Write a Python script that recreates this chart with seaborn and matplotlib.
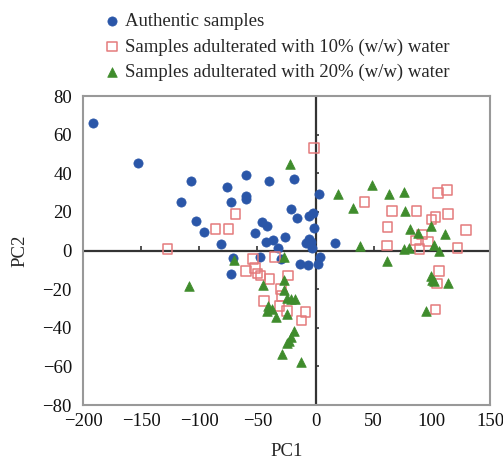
import numpy as np
import pandas as pd
import matplotlib
matplotlib.use("Agg")
import matplotlib.pyplot as plt
import seaborn as sns

# PC scores
auth_pc1 = [-191.5, -152.5, -107.0, -115.3, -102.5, -96.0, -81.5, -76.0, -72.4, -60.2,
            -59.5, -59.9, -40.2, -18.7, 3.1, -21.0, -15.7, -5.9, -1.8, -45.8,
            -42.0, -52.5, -1.0, -43.0, -36.7, -26.6, -32.2, -8.6, -5.8, -3.6,
            -2.8, 16.3, -48.0, 3.5, -70.8, -29.5, -13.6, -6.8, 2.4, -73.1]
auth_pc2 = [66.0, 45.1, 36.0, 25.2, 15.5, 9.6, 3.5, 32.9, 25.3, 39.2,
            28.0, 26.5, 36.0, 36.9, 29.4, 21.3, 17.0, 18.1, 19.4, 14.5,
            12.6, 9.0, 11.5, 4.6, 5.5, 6.8, 1.1, 4.1, 5.7, 4.6,
            1.4, 3.8, -3.5, -3.3, -3.8, -4.3, -7.0, -7.4, -7.2, -12.3]

w10_pc1 = [-127.2, -1.1, -68.8, -86.0, -75.0, -53.8, -34.7, -59.8, -52.0, -50.1,
           -47.5, -39.7, -23.6, -29.8, -28.9, -44.5, -31.0, -24.6, -8.6, -12.0,
           42.1, 105.3, 113.0, 65.9, 86.7, 114.0, 103.0, 99.6, 62.0, 129.6,
           91.7, 86.3, 96.5, 61.3, 89.4, 122.0, 106.3, 104.3, 103.2]
w10_pc2 = [0.7, 53.2, 18.8, 11.0, 11.2, -4.3, -3.5, -10.5, -9.0, -12.0,
           -12.9, -14.6, -12.9, -20.0, -23.5, -26.2, -28.8, -31.4, -31.8, -36.2,
           25.0, 29.8, 31.3, 20.3, 20.3, 18.9, 17.2, 16.0, 12.1, 10.5,
           8.3, 5.2, 4.7, 2.6, 0.7, 1.4, -10.6, -17.1, -30.5]

w20_pc1 = [-22.1, -26.8, -70.2, -108.9, -45.0, -27.0, -27.2, -24.3, -21.5, -18.1,
           -41.0, -37.2, -41.5, -34.4, -24.3, -18.7, -20.9, -23.0, -24.3, -28.6,
           -12.2, 48.3, 19.2, 63.0, 76.1, 32.1, 76.8, 81.5, 88.1, 98.9,
           111.0, 37.8, 76.2, 80.2, 101.7, 106.0, 61.7, 98.9, 100.3, 101.5,
           113.5, 95.2]
w20_pc2 = [45.0, -3.6, -4.8, -18.5, -18.1, -15.2, -20.5, -24.5, -25.3, -25.3,
           -28.8, -30.5, -31.4, -34.5, -33.1, -41.5, -44.6, -46.9, -48.0, -53.8,
           -57.7, 34.0, 29.0, 29.0, 30.3, 22.1, 20.3, 10.9, 9.2, 12.9,
           8.7, 2.2, 1.0, 1.5, 2.6, -0.4, -5.2, -13.1, -15.2, -15.9,
           -16.9, -31.4]

labels = ["Authentic samples",
          "Samples adulterated with 10% (w/w) water",
          "Samples adulterated with 20% (w/w) water"]
x_ticks = [-200, -150, -100, -50, 0, 50, 100, 150]
y_ticks = [-80, -60, -40, -20, 0, 20, 40, 60, 80]

sns.set_style("white")
plt.rcParams['font.family'] = ['Liberation Serif', 'DejaVu Serif']
fs = 13.5

fig = plt.figure(figsize=(5.03, 4.62), dpi=100)
ax = fig.add_axes([83 / 503, 1 - 405 / 462, 407 / 503, 309 / 462])

# crosshair through the origin, with its own small ticks
ax.axhline(0, color="#333333", lw=1.6, zorder=1)
ax.axvline(0, color="#333333", lw=1.6, zorder=1)
ax.vlines([t for t in x_ticks if t != 0], 0, 2.3, color="#333333", lw=1.2, zorder=1)
ax.hlines([t for t in y_ticks if t != 0], 0, 3.0, color="#333333", lw=1.2, zorder=1)

sns.scatterplot(x=auth_pc1, y=auth_pc2, ax=ax, marker="o", s=44,
                color="#2a56a8", edgecolor="#2a56a8", linewidth=0.5,
                label=labels[0], zorder=3)
sns.scatterplot(x=w10_pc1, y=w10_pc2, ax=ax, marker="s", s=48,
                facecolor="none", edgecolor="#e47a7c", linewidth=1.1,
                label=labels[1], zorder=3)
sns.scatterplot(x=w20_pc1, y=w20_pc2, ax=ax, marker="^", s=48,
                color="#3f8c2c", edgecolor="#3f8c2c", linewidth=0.5,
                label=labels[2], zorder=3)

ax.set_xlim(-200, 150)
ax.set_ylim(-80, 80)
ax.set_xticks(x_ticks)
ax.set_yticks(y_ticks)
ax.tick_params(direction="in", length=4, width=1, color="#888888",
               labelsize=fs, labelcolor="#111111")
ax.tick_params(axis="x", pad=6)
ax.tick_params(axis="y", pad=8)
for side in ["left", "bottom", "top", "right"]:
    ax.spines[side].set_color("#999999")
    ax.spines[side].set_linewidth(1.5)

ax.set_xlabel("PC1", fontsize=fs, labelpad=9)
ax.set_ylabel("PC2", fontsize=fs, labelpad=10)

ax.legend(loc="upper left", bbox_to_anchor=(97 / 503, 1 - 7 / 462), bbox_transform=fig.transFigure,
          frameon=False, fontsize=fs, handletextpad=0.2, labelspacing=0.45,
          handlelength=1.0, borderaxespad=0, borderpad=0.3)

fig.savefig("out.png", dpi=100)
